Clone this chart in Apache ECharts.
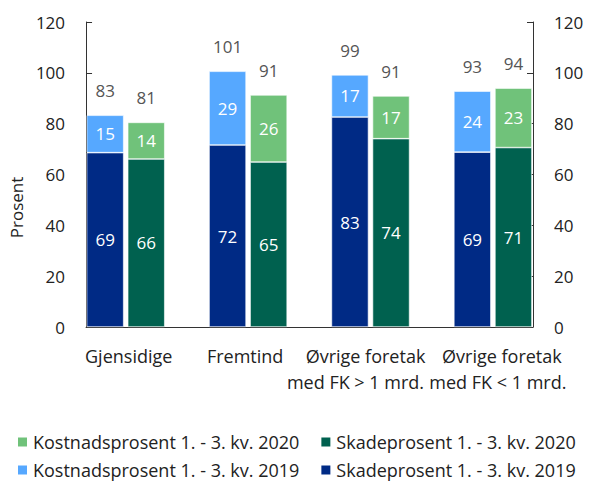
<!DOCTYPE html>
<html>
<head>
<meta charset="utf-8">
<script src="https://cdn.jsdelivr.net/npm/echarts@6/dist/echarts.min.js"></script>
<style>
  html, body { margin: 0; padding: 0; background: #fff; }
  #chart { width: 595px; height: 481px; }
</style>
</head>
<body>
<div id="chart"></div>
<script>
// kategorier og verdier (prosent)
const categories = ['Gjensidige', 'Fremtind', 'Øvrige foretak\nmed FK > 1 mrd.', 'Øvrige foretak\nmed FK < 1 mrd.'];
const skade2019 = [68.6, 71.6, 82.6, 68.8];
const kostnad2019 = [14.7, 29.0, 16.6, 24.0];
const total2019 = [83, 101, 99, 93];
const skade2020 = [66.1, 64.9, 74.1, 70.6];
const kostnad2020 = [14.4, 26.4, 16.8, 23.4];
const total2020 = [81, 91, 91, 94];
const yTicks = [0, 20, 40, 60, 80, 100, 120];

const names = {
  k2020: 'Kostnadsprosent 1. - 3. kv. 2020',
  s2020: 'Skadeprosent 1. - 3. kv. 2020',
  k2019: 'Kostnadsprosent 1. - 3. kv. 2019',
  s2019: 'Skadeprosent 1. - 3. kv. 2019'
};

const colors = {
  s2019: '#002A85',
  k2019: '#56A8FF',
  s2020: '#00614F',
  k2020: '#70C27A'
};

const font = 'Open Sans';
const textColor = '#222';

// små forskyvninger av kategoritekstene (px), per linje
const labelShift = [[3], [-3], [-5, -15], [9, 5]];

const rich = {};
categories.forEach((c, i) => {
  c.split('\n').forEach((line, j) => {
    const d = labelShift[i][j] || 0;
    rich['c' + i + '_' + j] = {
      fontFamily: font, fontSize: 18, color: textColor, lineHeight: 26,
      padding: [0, d < 0 ? -2 * d : 0, 0, d > 0 ? 2 * d : 0]
    };
  });
});

const segLabel = {
  show: true,
  position: 'inside',
  color: '#fff',
  fontFamily: font,
  fontSize: 17,
  formatter: p => Math.round(p.value)
};

const bar = (name, stack, data, color) => ({
  name: name, type: 'bar', stack: stack,
  xAxisIndex: 0, yAxisIndex: 0,
  barWidth: 37, barGap: '11%',
  data: data,
  itemStyle: { color: color, borderColor: '#fff', borderWidth: 0.6 },
  label: segLabel
});

// usynlig serie på toppen av stabelen som bærer totalen
const totalSeries = (stack, totals) => ({
  type: 'bar', stack: stack,
  xAxisIndex: 0, yAxisIndex: 0,
  barWidth: 37, barGap: '11%',
  data: totals.map(() => 0),
  itemStyle: { color: 'transparent' },
  label: {
    show: true,
    position: 'top',
    distance: 16,
    color: '#555',
    fontFamily: font,
    fontSize: 17,
    formatter: p => totals[p.dataIndex]
  },
  silent: true
});

const chart = echarts.init(document.getElementById('chart'), null, { renderer: 'svg' });

const yAxisBase = {
  type: 'value',
  gridIndex: 1,
  min: 0,
  max: 120,
  interval: 20,
  axisLine: { show: true, onZero: false, lineStyle: { color: '#333', width: 1 } },
  axisTick: { show: true, inside: true, length: 6, lineStyle: { color: '#333' } },
  axisLabel: {
    margin: 21,
    fontFamily: font,
    fontSize: 17,
    color: textColor,
    formatter: v => yTicks.includes(v) ? String(v) : ''
  },
  splitLine: { show: false }
};

const legendBase = {
  left: 11,
  icon: 'rect', itemWidth: 11, itemHeight: 11, itemGap: 20,
  textStyle: { fontFamily: font, fontSize: 18, color: textColor }
};

chart.setOption({
  animation: false,
  textStyle: { fontFamily: font },
  grid: [
    // søylene: kategoriene ligger tettere enn akselinjene
    { left: 64.5, width: 489.6, top: 22, height: 305 },
    // aksene
    { left: 86, right: 62, top: 22, height: 305 }
  ],
  legend: [
    Object.assign({}, legendBase, { data: [names.k2020, names.s2020], top: 428 }),
    Object.assign({}, legendBase, { data: [names.k2019, names.s2019], top: 456 })
  ],
  xAxis: [
    {
      type: 'category',
      gridIndex: 0,
      data: categories,
      axisLine: { show: false },
      axisTick: { show: false },
      axisLabel: {
        interval: 0,
        margin: 16,
        formatter: (v, i) => v.split('\n').map((line, j) => '{c' + i + '_' + j + '|' + line + '}').join('\n'),
        rich: rich
      }
    },
    {
      type: 'value',
      gridIndex: 1,
      min: 0,
      max: 1,
      axisLine: { show: true, onZero: false, lineStyle: { color: '#333', width: 1 } },
      axisTick: { show: false },
      axisLabel: { show: false },
      splitLine: { show: false }
    }
  ],
  yAxis: [
    { type: 'value', gridIndex: 0, min: 0, max: 120, show: false },
    Object.assign({}, yAxisBase, {
      position: 'left',
      name: 'Prosent',
      nameLocation: 'middle',
      nameGap: 51,
      nameRotate: 90,
      nameTextStyle: { fontFamily: font, fontSize: 17, color: textColor, padding: [0, 66, 0, 0] }
    }),
    Object.assign({}, yAxisBase, { position: 'right' })
  ],
  series: [
    bar(names.s2019, '2019', skade2019, colors.s2019),
    bar(names.k2019, '2019', kostnad2019, colors.k2019),
    totalSeries('2019', total2019),
    bar(names.s2020, '2020', skade2020, colors.s2020),
    bar(names.k2020, '2020', kostnad2020, colors.k2020),
    totalSeries('2020', total2020)
  ]
});
</script>
</body>
</html>
